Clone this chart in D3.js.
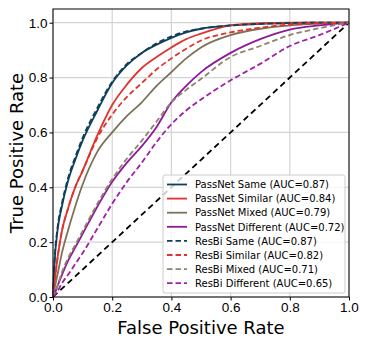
<!DOCTYPE html>
<html>
<head>
<meta charset="utf-8">
<script src="https://d3js.org/d3.v7.min.js"></script>
<style>
    body { margin: 0; background: #fff; }
    svg { font-family: "DejaVu Sans", sans-serif; }
    .grid line { stroke: #d4d4d4; stroke-width: 1.2px; }
    .tick text { font-size: 13.5px; fill: #000; }
</style>
</head>
<body>
<script>
var width = 366, height = 343;
var margin = {left: 53, right: 17, top: 9, bottom: 46};

// shared false positive rate grid
var fpr = [0, 0.005, 0.015, 0.03, 0.05, 0.075, 0.1, 0.15, 0.2, 0.25, 0.3, 0.35, 0.4, 0.45, 0.5, 0.6, 0.7, 0.8, 0.9, 1.0];

var passSame      = [0, 0.12, 0.24, 0.33, 0.42, 0.50, 0.57, 0.68, 0.78, 0.845, 0.89, 0.92, 0.945, 0.965, 0.978, 0.99, 0.996, 0.999, 1, 1];
var passSimilar   = [0, 0.05, 0.14, 0.24, 0.32, 0.40, 0.46, 0.59, 0.70, 0.775, 0.835, 0.875, 0.91, 0.94, 0.96, 0.99, 0.998, 1, 1, 1];
var passMixed     = [0, 0.03, 0.08, 0.16, 0.24, 0.33, 0.41, 0.53, 0.60, 0.66, 0.71, 0.77, 0.82, 0.87, 0.91, 0.955, 0.978, 0.99, 0.997, 1];
var passDifferent = [0, 0.01, 0.04, 0.08, 0.13, 0.18, 0.23, 0.33, 0.42, 0.49, 0.55, 0.62, 0.71, 0.77, 0.82, 0.89, 0.94, 0.975, 0.99, 1];
var resSame       = [0, 0.13, 0.25, 0.34, 0.43, 0.51, 0.58, 0.69, 0.785, 0.85, 0.89, 0.925, 0.95, 0.968, 0.978, 0.99, 0.996, 0.999, 1, 1];
var resSimilar    = [0, 0.05, 0.14, 0.24, 0.32, 0.40, 0.46, 0.58, 0.665, 0.73, 0.78, 0.83, 0.87, 0.905, 0.935, 0.965, 0.982, 0.993, 0.998, 1];
var resMixed      = [0, 0.01, 0.04, 0.09, 0.14, 0.19, 0.24, 0.34, 0.43, 0.505, 0.57, 0.64, 0.71, 0.755, 0.795, 0.875, 0.915, 0.955, 0.98, 1];
var resDifferent  = [0, 0.005, 0.02, 0.05, 0.08, 0.12, 0.16, 0.25, 0.34, 0.42, 0.49, 0.565, 0.63, 0.68, 0.72, 0.79, 0.85, 0.915, 0.955, 1];

var labels = ["PassNet Same (AUC=0.87)", "PassNet Similar (AUC=0.84)", "PassNet Mixed (AUC=0.79)", "PassNet Different (AUC=0.72)",
              "ResBi Same (AUC=0.87)", "ResBi Similar (AUC=0.82)", "ResBi Mixed (AUC=0.71)", "ResBi Different (AUC=0.65)"];
var colors = ["#0f3f5a", "#e0332d", "#7d7259", "#8e1a9a", "#0f3f5a", "#e0332d", "#8d8470", "#a01fa8"];
var dashed = [false, false, false, false, true, true, true, true];
var series = [passSame, passSimilar, passMixed, passDifferent, resSame, resSimilar, resMixed, resDifferent];

var tickVals = [0, 0.2, 0.4, 0.6, 0.8, 1.0];

var svg = d3.select("body").append("svg")
    .attr("width", width)
    .attr("height", height);

var x = d3.scaleLinear().domain([0, 1]).range([margin.left, width - margin.right]);
var y = d3.scaleLinear().domain([0, 1.05]).range([height - margin.bottom, margin.top]);

// grid
svg.append("g").attr("class", "grid")
    .selectAll("line.v").data(tickVals).enter().append("line")
    .attr("x1", d => x(d)).attr("x2", d => x(d))
    .attr("y1", y(0)).attr("y2", y(1.05));
svg.select("g.grid")
    .selectAll("line.h").data(tickVals).enter().append("line")
    .attr("x1", x(0)).attr("x2", x(1))
    .attr("y1", d => y(d)).attr("y2", d => y(d));

// diagonal
var line = d3.line().x(d => x(d[0])).y(d => y(d[1])).curve(d3.curveMonotoneX);
svg.append("path")
    .attr("d", line([[0, 0], [1, 1]]))
    .attr("fill", "none").attr("stroke", "#000")
    .attr("stroke-width", 1.8).attr("stroke-dasharray", "6,4");

// curves, dashed ones drawn on top
series.forEach(function(s, i) {
    svg.append("path")
        .attr("d", line(fpr.map((f, j) => [f, s[j]])))
        .attr("fill", "none")
        .attr("stroke", colors[i])
        .attr("stroke-width", 1.8)
        .attr("stroke-dasharray", dashed[i] ? "5.5,3" : null);
});

// frame
svg.append("rect")
    .attr("x", x(0)).attr("y", y(1.05))
    .attr("width", x(1) - x(0)).attr("height", y(0) - y(1.05))
    .attr("fill", "none").attr("stroke", "#000").attr("stroke-width", 1);

// axes
svg.append("g")
    .attr("transform", "translate(0," + y(0) + ")")
    .call(d3.axisBottom(x).tickValues(tickVals).tickFormat(d3.format(".1f")).tickSize(3.5).tickPadding(2))
    .call(g => g.select(".domain").remove());
svg.append("g")
    .attr("transform", "translate(" + x(0) + ",0)")
    .call(d3.axisLeft(y).tickValues(tickVals).tickFormat(d3.format(".1f")).tickSize(3.5).tickPadding(2))
    .call(g => g.select(".domain").remove());

svg.append("text")
    .attr("x", (x(0) + x(1)) / 2).attr("y", 334)
    .attr("text-anchor", "middle")
    .style("font-size", "18px")
    .text("False Positive Rate");
svg.append("text")
    .attr("transform", "translate(23," + (y(0) + y(1.05)) / 2 + ") rotate(-90)")
    .attr("text-anchor", "middle")
    .style("font-size", "18px")
    .text("True Positive Rate");

// legend
var lg = svg.append("g").attr("transform", "translate(163,175)");
lg.append("rect")
    .attr("width", 182).attr("height", 118).attr("rx", 2)
    .attr("fill", "#fff").attr("fill-opacity", 0.8)
    .attr("stroke", "#ccc").attr("stroke-width", 1);
labels.forEach(function(l, i) {
    var ly = 9.5 + i * 14.1;
    lg.append("line")
        .attr("x1", 4).attr("x2", 24).attr("y1", ly).attr("y2", ly)
        .attr("stroke", colors[i]).attr("stroke-width", 1.8)
        .attr("stroke-dasharray", dashed[i] ? "5.5,3" : null);
    lg.append("text")
        .attr("x", 32).attr("y", ly + 3.7)
        .style("font-size", "10px")
        .text(l);
});
</script>
</body>
</html>
